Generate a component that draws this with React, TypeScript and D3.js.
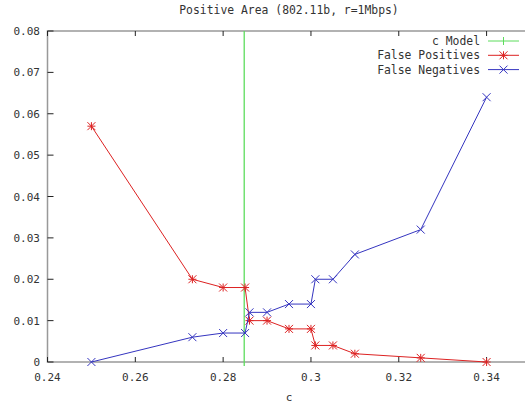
import * as d3 from 'd3';
import React, { useEffect, useRef } from 'react';

const cValues = [0.25, 0.273, 0.28, 0.285, 0.286, 0.29, 0.295, 0.3, 0.301, 0.305, 0.31, 0.325, 0.34];
const falsePositives = [0.057, 0.02, 0.018, 0.018, 0.01, 0.01, 0.008, 0.008, 0.004, 0.004, 0.002, 0.001, 0];
const falseNegatives = [0, 0.006, 0.007, 0.007, 0.012, 0.012, 0.014, 0.014, 0.02, 0.02, 0.026, 0.032, 0.064];
const cModel = 0.2848;
const xTicks = [0.24, 0.26, 0.28, 0.3, 0.32, 0.34];
const yTicks = [0, 0.01, 0.02, 0.03, 0.04, 0.05, 0.06, 0.07, 0.08];

const App: React.FC = () => {
  const ref = useRef<SVGSVGElement>(null);

  useEffect(() => {
    if (!ref.current) return;
    const width = 525;
    const height = 407;
    const font = '"DejaVu Sans Mono", monospace';

    const svg = d3.select(ref.current);
    svg.selectAll('*').remove();
    svg.attr('width', width).attr('height', height);

    svg.append('rect').attr('width', width).attr('height', height).attr('fill', '#fff');

    const x = d3.scaleLinear().domain([0.24, 0.35]).range([47.5, 530.5]);
    const y = d3.scaleLinear().domain([0, 0.08]).range([362, 31]);

    // border
    svg.append('rect')
      .attr('x', x(0.24)).attr('y', y(0.08))
      .attr('width', x(0.35) - x(0.24)).attr('height', y(0) - y(0.08))
      .attr('fill', 'none').attr('stroke', '#999').attr('stroke-width', 1.5);

    // ticks
    const tk = svg.append('g').attr('stroke', '#222').attr('stroke-width', 1);
    xTicks.forEach(t => {
      tk.append('line').attr('x1', x(t)).attr('x2', x(t)).attr('y1', y(0)).attr('y2', y(0) - 5);
      tk.append('line').attr('x1', x(t)).attr('x2', x(t)).attr('y1', y(0.08)).attr('y2', y(0.08) + 5);
    });
    yTicks.forEach(t => {
      tk.append('line').attr('x1', x(0.24)).attr('x2', x(0.24) + 6).attr('y1', y(t)).attr('y2', y(t));
    });

    svg.append('g').selectAll('text').data(xTicks).enter().append('text')
      .attr('x', d => x(d)).attr('y', 381)
      .attr('text-anchor', 'middle')
      .style('font-family', font).style('font-size', '11px').style('fill', '#333')
      .text(d => String(d));

    svg.append('g').selectAll('text').data(yTicks).enter().append('text')
      .attr('x', 40).attr('y', d => y(d) + 4)
      .attr('text-anchor', 'end')
      .style('font-family', font).style('font-size', '11px').style('fill', '#333')
      .text(d => String(d));

    svg.append('text').attr('x', 289).attr('y', 14).attr('text-anchor', 'middle')
      .style('font-family', font).style('font-size', '11.4px').style('fill', '#333')
      .text('Positive Area (802.11b, r=1Mbps)');

    svg.append('text').attr('x', 289).attr('y', 401).attr('text-anchor', 'middle')
      .style('font-family', font).style('font-size', '11px').style('fill', '#333')
      .text('c');

    const green = '#5cdc5c';
    const red = '#dd2222';
    const blue = '#3535c0';

    // c model vertical line
    svg.append('line')
      .attr('x1', x(cModel)).attr('x2', x(cModel)).attr('y1', y(0.08)).attr('y2', 366)
      .attr('stroke', green).attr('stroke-width', 1.3);

    const line = d3.line<number>().x((d, i) => x(cValues[i]));

    const drawStar = (g: d3.Selection<SVGGElement, unknown, null, undefined>, px: number, py: number, color: string) => {
      const s = 4;
      g.append('path')
        .attr('d', `M${px - s},${py}H${px + s}M${px},${py - s}V${py + s}M${px - s},${py - s}L${px + s},${py + s}M${px - s},${py + s}L${px + s},${py - s}`)
        .attr('stroke', color).attr('stroke-width', 1).attr('fill', 'none');
    };
    const drawX = (g: d3.Selection<SVGGElement, unknown, null, undefined>, px: number, py: number, color: string) => {
      const s = 4;
      g.append('path')
        .attr('d', `M${px - s},${py - s}L${px + s},${py + s}M${px - s},${py + s}L${px + s},${py - s}`)
        .attr('stroke', color).attr('stroke-width', 1).attr('fill', 'none');
    };

    const fp = svg.append('g');
    fp.append('path').datum(falsePositives)
      .attr('d', line.y(d => y(d)))
      .attr('fill', 'none').attr('stroke', red).attr('stroke-width', 1);
    falsePositives.forEach((v, i) => drawStar(fp, x(cValues[i]), y(v), red));

    const fn = svg.append('g');
    fn.append('path').datum(falseNegatives)
      .attr('d', line.y(d => y(d)))
      .attr('fill', 'none').attr('stroke', blue).attr('stroke-width', 1);
    falseNegatives.forEach((v, i) => drawX(fn, x(cValues[i]), y(v), blue));

    // legend
    const legend = svg.append('g');
    const items = [
      { label: 'c Model', color: green, mark: 'plus' },
      { label: 'False Positives', color: red, mark: 'star' },
      { label: 'False Negatives', color: blue, mark: 'x' },
    ];
    items.forEach((it, i) => {
      const ly = 41 + i * 14.3;
      legend.append('text').attr('x', 480).attr('y', ly + 4).attr('text-anchor', 'end')
        .style('font-family', font).style('font-size', '11.4px').style('fill', '#333')
        .text(it.label);
      legend.append('line').attr('x1', 488).attr('x2', 519).attr('y1', ly).attr('y2', ly)
        .attr('stroke', it.color).attr('stroke-width', 1);
      if (it.mark === 'star') drawStar(legend, 503.5, ly, it.color);
      else if (it.mark === 'x') drawX(legend, 503.5, ly, it.color);
      else legend.append('line').attr('x1', 503.5).attr('x2', 503.5).attr('y1', ly - 4).attr('y2', ly + 4)
        .attr('stroke', it.color).attr('stroke-width', 1);
    });
  }, []);

  return <svg ref={ref} style={{ position: 'absolute', left: 0, top: 0 }} />;
};

export default App;
